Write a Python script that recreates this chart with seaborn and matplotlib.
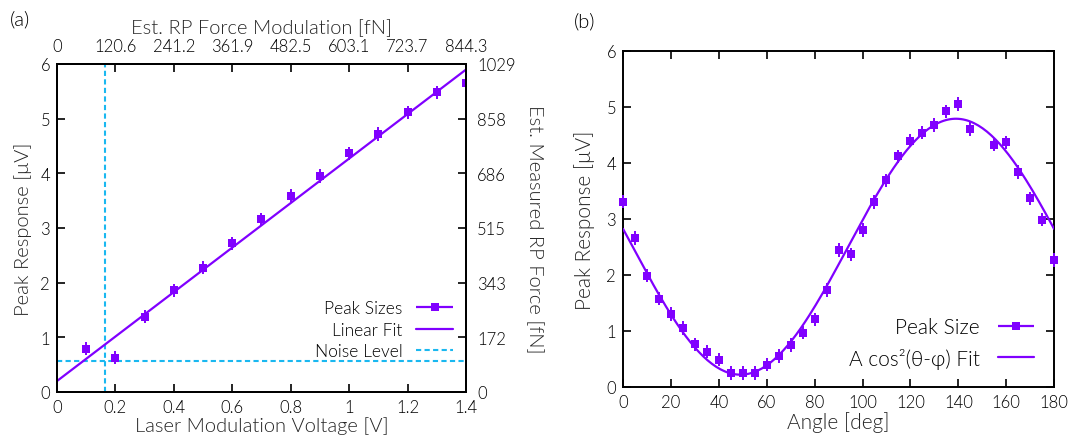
import numpy as np
import pandas as pd
import matplotlib
matplotlib.use("Agg")
import matplotlib.pyplot as plt
import seaborn as sns
from matplotlib import ticker
from matplotlib.legend_handler import HandlerErrorbar
from matplotlib.container import ErrorbarContainer

# ---------------- data: panel (a) ----------------
voltage = [0.1, 0.2, 0.3, 0.4, 0.5, 0.6, 0.7, 0.8, 0.9, 1.0, 1.1, 1.2, 1.3, 1.4]
peak_a = [0.79, 0.63, 1.38, 1.86, 2.27, 2.72, 3.16, 3.59, 3.95, 4.37, 4.72, 5.12, 5.48, 5.65]
err_a = [0.12, 0.12, 0.12, 0.12, 0.12, 0.12, 0.12, 0.12, 0.12, 0.12, 0.12, 0.12, 0.12, 0.12]
fit_a_intercept = 0.2
fit_a_slope = 4.07
noise_level = 0.56
noise_voltage = 0.165
bottom_ticks_a = [0, 0.2, 0.4, 0.6, 0.8, 1.0, 1.2, 1.4]
top_tick_labels = ["0", "120.6", "241.2", "361.9", "482.5", "603.1", "723.7", "844.3"]
left_ticks_a = [0, 1, 2, 3, 4, 5, 6]
right_tick_labels = ["0", "172", "343", "515", "686", "858", "1029"]

# ---------------- data: panel (b) ----------------
angle = [0, 5, 10, 15, 20, 25, 30, 35, 40, 45, 50, 55, 60, 65, 70, 75, 80, 85, 90,
         95, 100, 105, 110, 115, 120, 125, 130, 135, 140, 145, 155, 160, 165, 170, 175, 180]
peak_b = [3.31, 2.66, 1.99, 1.58, 1.30, 1.05, 0.76, 0.63, 0.49, 0.25, 0.25, 0.25, 0.40,
          0.55, 0.75, 0.97, 1.21, 1.73, 2.45, 2.37, 2.80, 3.30, 3.69, 4.12, 4.40, 4.54,
          4.68, 4.92, 5.05, 4.61, 4.33, 4.37, 3.84, 3.37, 2.99, 2.27]
err_b = [0.12, 0.12, 0.12, 0.12, 0.12, 0.12, 0.12, 0.12, 0.12, 0.12, 0.12, 0.12,
         0.12, 0.12, 0.12, 0.12, 0.12, 0.12, 0.12, 0.12, 0.12, 0.12, 0.12, 0.12,
         0.12, 0.12, 0.12, 0.12, 0.12, 0.12, 0.12, 0.12, 0.12, 0.12, 0.12, 0.12]
fit_b_A = 4.57
fit_b_phi = 139.0
fit_b_offset = 0.22

# ---------------- style ----------------
sns.set_theme(style="ticks")
plt.rcParams["font.family"] = ["Lato", "DejaVu Sans"]
plt.rcParams["font.weight"] = 300
plt.rcParams["axes.labelweight"] = 300
plt.rcParams["axes.linewidth"] = 1.4
plt.rcParams["axes.edgecolor"] = "black"
plt.rcParams["text.color"] = "black"
plt.rcParams["xtick.color"] = "black"
plt.rcParams["ytick.color"] = "black"
plt.rcParams["xtick.labelcolor"] = "black"
plt.rcParams["ytick.labelcolor"] = "black"

PURPLE = "#8000ff"
CYAN = "#1ab8f0"
TICK_FS = 12
LABEL_FS = 14.5
MS = 5.8

fig = plt.figure(figsize=(10.83, 4.39), dpi=100)

# ================= panel (a) =================
ax = fig.add_axes([0.0526, 0.1048, 0.3777, 0.7472])
df_a = pd.DataFrame({"V": voltage, "P": peak_a, "E": err_a})
xfit_a = np.linspace(0, 1.4, 50)
fit_df_a = pd.DataFrame({"V": xfit_a, "P": fit_a_intercept + fit_a_slope * xfit_a})

sns.lineplot(data=fit_df_a, x="V", y="P", ax=ax, color=PURPLE, linewidth=1.6, zorder=3)
fit_line_a = ax.lines[-1]
ax.errorbar(df_a["V"], df_a["P"], yerr=df_a["E"], fmt="s", color=PURPLE, ms=MS,
            mew=0, capsize=3, elinewidth=1.4, capthick=1.4, zorder=4)
noise_line = ax.axhline(noise_level, color=CYAN, lw=1.5, ls=(0, (2.5, 1.6)), zorder=2)
ax.axvline(noise_voltage, color=CYAN, lw=1.5, ls=(0, (2.5, 1.6)), zorder=2)

ax.set_xlim(0, 1.4)
ax.set_ylim(0, 6)
ax.set_xticks(bottom_ticks_a)
ax.set_yticks(left_ticks_a)
ax.xaxis.set_major_formatter(ticker.FormatStrFormatter("%g"))
ax.tick_params(direction="in", length=6, width=1.2, labelsize=TICK_FS, pad=5)
ax.set_xlabel("Laser Modulation Voltage [V]", fontsize=LABEL_FS, labelpad=1)
ax.set_ylabel("Peak Response [μV]", fontsize=LABEL_FS, labelpad=6)

ax_top = ax.twiny()
ax_top.set_xlim(0, 1.4)
ax_top.set_xticks(bottom_ticks_a)
ax_top.set_xticklabels(top_tick_labels)
ax_top.tick_params(direction="in", length=6, width=1.2, labelsize=TICK_FS, pad=7)
ax_top.set_xlabel("Est. RP Force Modulation [fN]", fontsize=LABEL_FS, labelpad=4)

ax_right = ax.twinx()
ax_right.set_ylim(0, 6)
ax_right.set_yticks(left_ticks_a)
ax_right.set_yticklabels(right_tick_labels)
ax_right.tick_params(direction="in", length=6, width=1.2, labelsize=TICK_FS, pad=8)
ax_right.set_ylabel("Est. Measured RP Force [fN]", fontsize=LABEL_FS, rotation=270,
                    labelpad=20)

proxy_a = ax.errorbar([np.nan], [np.nan], xerr=[1], fmt="s", color=PURPLE, ms=MS, mew=0,
                      capsize=3.5, elinewidth=1.6, capthick=1.6)
hl_a = 2.1
ax.legend([proxy_a, fit_line_a, noise_line],
          ["Peak Sizes", "Linear Fit", "Noise Level"],
          loc="lower right", bbox_to_anchor=(0.985, 0.08), frameon=False,
          markerfirst=False, fontsize=12.5, handlelength=hl_a,
          handletextpad=0.8, labelspacing=0.3, borderaxespad=0,
          handler_map={ErrorbarContainer: HandlerErrorbar(xerr_size=hl_a / 2)})

fig.text(0.009, 0.955, "(a)", fontsize=LABEL_FS, va="center", ha="left")

# ================= panel (b) =================
bx = fig.add_axes([0.5753, 0.1162, 0.398, 0.7654])
df_b = pd.DataFrame({"A": angle, "P": peak_b, "E": err_b})
xfit_b = np.linspace(0, 180, 200)
fit_df_b = pd.DataFrame({"A": xfit_b,
                         "P": fit_b_A * np.cos(np.radians(xfit_b - fit_b_phi)) ** 2 + fit_b_offset})

sns.lineplot(data=fit_df_b, x="A", y="P", ax=bx, color=PURPLE, linewidth=1.6, zorder=3)
fit_line_b = bx.lines[-1]
bx.errorbar(df_b["A"], df_b["P"], yerr=df_b["E"], fmt="s", color=PURPLE, ms=MS,
            mew=0, capsize=3, elinewidth=1.4, capthick=1.4, zorder=4, clip_on=False)

bx.set_xlim(0, 180)
bx.set_ylim(0, 6)
bx.set_xticks(range(0, 181, 20))
bx.set_yticks(range(0, 7))
bx.tick_params(direction="in", length=6, width=1.2, labelsize=TICK_FS, pad=5,
               top=True, right=True)
bx.set_xlabel("Angle [deg]", fontsize=15, labelpad=1)
bx.set_ylabel("Peak Response [μV]", fontsize=15, labelpad=8)

proxy_b = bx.errorbar([np.nan], [np.nan], xerr=[1], fmt="s", color=PURPLE, ms=MS, mew=0,
                      capsize=3.5, elinewidth=1.6, capthick=1.6)
hl_b = 1.7
bx.legend([proxy_b, fit_line_b], ["Peak Size", "A cos²(θ-φ) Fit"],
          loc="lower right", bbox_to_anchor=(0.972, 0.03), frameon=False,
          markerfirst=False, fontsize=15, handlelength=hl_b,
          handletextpad=0.9, labelspacing=0.5, borderaxespad=0,
          handler_map={ErrorbarContainer: HandlerErrorbar(xerr_size=hl_b / 2)})

fig.text(0.530, 0.952, "(b)", fontsize=LABEL_FS, va="center", ha="left")

fig.savefig("out.png", dpi=100)
